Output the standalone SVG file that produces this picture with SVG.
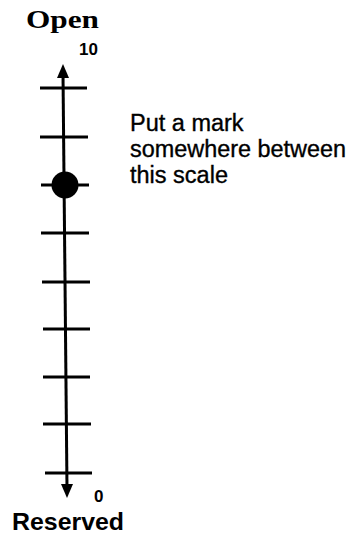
<svg xmlns="http://www.w3.org/2000/svg" width="351" height="534" viewBox="0 0 351 534">
<style>
.ax{stroke:#000;stroke-width:3;fill:none;stroke-linecap:butt}
.tk{stroke:#000;stroke-width:3;fill:none}
.sans{font-family:"Liberation Sans",Arial,sans-serif;fill:#000}
.serif{font-family:"Liberation Serif","Times New Roman",serif;fill:#000}
.ins{stroke:#000;stroke-width:0.35}
</style>
<rect width="351" height="534" fill="#fff"/>
<g id="connectors">
<line class="ax" x1="63" y1="74" x2="67" y2="488"/>
<polygon points="63,64 57,78 69,78" fill="#000"/>
<polygon points="67,498 61,484 73,484" fill="#000"/>
</g>
<g id="ticks">
<line class="tk" x1="40" y1="88" x2="87" y2="88"/>
<line class="tk" x1="40" y1="137" x2="88" y2="137"/>
<line class="tk" x1="41" y1="185" x2="89" y2="185"/>
<line class="tk" x1="41" y1="233" x2="89" y2="233"/>
<line class="tk" x1="42" y1="282" x2="90" y2="282"/>
<line class="tk" x1="43" y1="329" x2="90" y2="329"/>
<line class="tk" x1="43" y1="377" x2="90" y2="377"/>
<line class="tk" x1="43" y1="424" x2="91" y2="424"/>
<line class="tk" x1="45" y1="473" x2="92" y2="473"/>
</g>
<g id="mark">
<circle cx="65" cy="185" r="13.5" fill="#000"/>
</g>
<g id="label-open">
<text class="serif" x="26" y="28" font-size="25" font-weight="bold" textLength="73" lengthAdjust="spacingAndGlyphs">Open</text>
<text class="sans" x="79" y="55" font-size="17" font-weight="bold">10</text>
</g>
<g id="label-reserved">
<text class="sans" x="94" y="502" font-size="17" font-weight="bold">0</text>
<text class="sans" x="12" y="530" font-size="24.5" font-weight="bold" textLength="112" lengthAdjust="spacingAndGlyphs">Reserved</text>
</g>
<g id="instruction">
<text class="sans ins" font-size="23.5" x="130" y="131">Put a mark</text>
<text class="sans ins" font-size="23.5" x="130" y="157" textLength="216" lengthAdjust="spacingAndGlyphs">somewhere between</text>
<text class="sans ins" font-size="23.5" x="130" y="183">this scale</text>
</g>
</svg>
